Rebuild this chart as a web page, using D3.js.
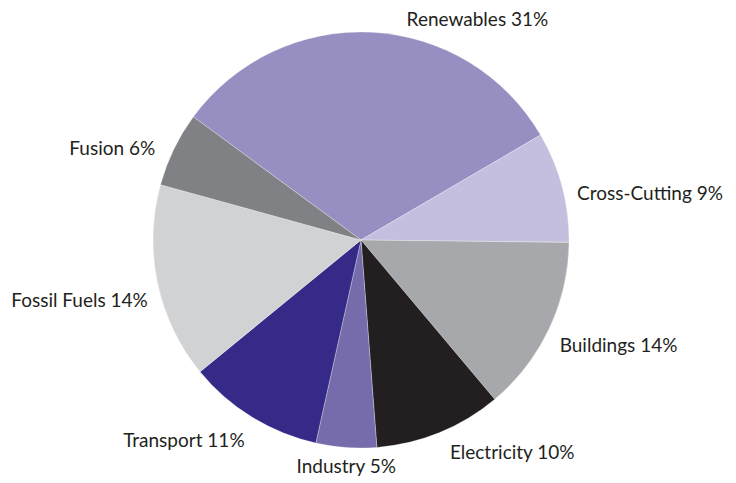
<!DOCTYPE html>
<html>
<head>
<meta charset="utf-8">
<script src="https://cdn.jsdelivr.net/npm/d3@7"></script>
<style>
  body { margin: 0; background: #fff; }
  text { font-family: "Lato", "Open Sans", sans-serif; fill: #231f20; }
</style>
</head>
<body>
<div id="chart"></div>
<script>
// datos
var categories = ["Renewables", "Cross-Cutting", "Buildings", "Electricity", "Industry", "Transport", "Fossil Fuels", "Fusion"];
// tamano de las porciones
var shares = [31.5, 8.6, 13.7, 9.9, 4.7, 10.6, 15.2, 5.8];
// porcentaje escrito en la etiqueta
var labelPct = ["31%", "9%", "14%", "10%", "5%", "11%", "14%", "6%"];
var colors = ["#978ec1", "#c4bfde", "#a7a8ab", "#231f20", "#766bab", "#352a87", "#d1d2d4", "#808184"];

var w = 736, h = 483;
var cx = 361, cy = 240, radius = 208;

var svg = d3.select("#chart").append("svg")
  .attr("width", w)
  .attr("height", h);

var g = svg.append("g")
  .attr("transform", "translate(" + cx + "," + cy + ")");

var data = categories.map(function(c, i) {
  return {name: c, value: shares[i], pct: labelPct[i], color: colors[i]};
});

// empieza en -53.7 grados
var start = -53.7 * Math.PI / 180;
var pie = d3.pie()
  .value(function(d) { return d.value; })
  .sort(null)
  .startAngle(start)
  .endAngle(start + 2 * Math.PI);

var arc = d3.arc().innerRadius(0).outerRadius(radius);
var labelArc = d3.arc().innerRadius(222).outerRadius(222);

var arcs = pie(data);

g.selectAll("path")
  .data(arcs)
  .enter()
  .append("path")
  .attr("d", arc)
  .attr("fill", function(d) { return d.data.color; })
  .attr("stroke", "#fff")
  .attr("stroke-width", 0.3);

// ajustes de las etiquetas (anchor, dx, dy)
var labelTweak = {
  "Renewables":   ["start", 34, 8],
  "Cross-Cutting":["start", 1.5, 17],
  "Buildings":    ["start", -2, 17],
  "Electricity":  ["start", 5, 13],
  "Industry":     ["middle", 1, 11.5],
  "Transport":    ["end", 0, 18],
  "Fossil Fuels": ["end", 4, 21],
  "Fusion":       ["end", -6, 12]
};

g.selectAll("text.lbl")
  .data(arcs)
  .enter()
  .append("text")
  .attr("class", "lbl")
  .attr("x", function(d) { return labelArc.centroid(d)[0] + labelTweak[d.data.name][1]; })
  .attr("y", function(d) { return labelArc.centroid(d)[1] + labelTweak[d.data.name][2]; })
  .attr("text-anchor", function(d) { return labelTweak[d.data.name][0]; })
  .style("font-size", "19px")
  .text(function(d) { return d.data.name + " " + d.data.pct; });
</script>
</body>
</html>
